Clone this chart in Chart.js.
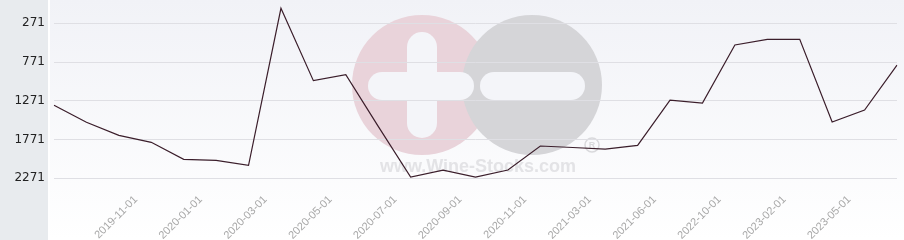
<!DOCTYPE html>
<html>
<head>
<meta charset="utf-8">
<script src="https://cdn.jsdelivr.net/npm/chart.js@4"></script>
<style>
  html, body { margin: 0; padding: 0; background: #fff; }
  #wrap { width: 904px; height: 240px; position: relative; }
</style>
</head>
<body>
<div id="wrap"><canvas id="lineChart" width="904" height="240"></canvas></div>
<script>
// fechas (solo se ven una de cada dos)
const fechas = ['', '', '2019-11-01', '', '2020-01-01', '', '2020-03-01', '', '2020-05-01', '',
    '2020-07-01', '', '2020-09-01', '', '2020-11-01', '', '2021-03-01', '', '2021-06-01', '',
    '2022-10-01', '', '2023-02-01', '', '2023-05-01', '', ''];
// posicion en el ranking (eje invertido)
const ranking = [1329, 1548, 1716, 1806, 2026, 2039, 2103, 77, 1011, 934,
    1600, 2254, 2164, 2254, 2164, 1854, 1873, 1893, 1845, 1261,
    1299, 551, 477, 477, 1545, 1390, 809];
const ticksY = [271, 771, 1271, 1771, 2271];

// fondo + marca de agua
const fondo = {
    id: 'fondo',
    beforeDraw(chart) {
        const c = chart.ctx;
        c.save();
        c.fillStyle = '#e8ebee';
        c.fillRect(0, 0, 48, chart.height);
        const g = c.createLinearGradient(0, 0, 0, chart.height);
        g.addColorStop(0, '#f1f2f7');
        g.addColorStop(1, '#ffffff');
        c.fillStyle = g;
        c.fillRect(50, 0, chart.width - 50, chart.height);

        // logo
        c.fillStyle = '#e9d3da';
        c.beginPath(); c.arc(422, 85, 70, 0, Math.PI * 2); c.fill();
        c.fillStyle = '#d5d5d8';
        c.beginPath(); c.arc(532, 85, 70, 0, Math.PI * 2); c.fill();
        c.fillStyle = '#f4f5f9';
        const barra = (x, y, w, h) => {
            const r = Math.min(w, h) / 2;
            c.beginPath();
            c.roundRect(x, y, w, h, r);
            c.fill();
        };
        barra(407, 32, 30, 106);
        barra(368, 72, 106, 28);
        barra(480, 72, 105, 28);
        c.fillStyle = '#e3e3e6';
        c.font = 'bold 18px "Liberation Sans"';
        c.textAlign = 'center';
        c.textBaseline = 'middle';
        c.fillText('www.Wine-Stocks.com', 478, 167);
        c.strokeStyle = '#d9d9dc';
        c.lineWidth = 1.5;
        c.beginPath(); c.arc(592, 145, 7, 0, Math.PI * 2); c.stroke();
        c.font = 'bold 9px "Liberation Sans"';
        c.fillStyle = '#d9d9dc';
        c.fillText('R', 592, 145.5);
        c.restore();
    }
};

const ctx = document.getElementById('lineChart').getContext('2d');
const lineChart = new Chart(ctx, {
    type: 'line',
    data: {
        labels: fechas,
        datasets: [{
            data: ranking,
            borderColor: '#3b1e2b',
            borderWidth: 1.2,
            pointRadius: 0,
            tension: 0,
            fill: false
        }]
    },
    options: {
        responsive: false,
        animation: false,
        layout: { padding: { left: 0, right: 7, top: 0, bottom: 0 } },
        plugins: { legend: { display: false }, tooltip: { enabled: false } },
        scales: {
            x: {
                offset: false,
                grid: { display: false },
                border: { display: false },
                ticks: {
                    autoSkip: false,
                    maxRotation: 45,
                    minRotation: 45,
                    color: '#a8a8a8',
                    font: { family: 'Liberation Sans', size: 11 },
                    padding: 0,
                    labelOffset: 17
                },
                afterFit(scale) {
                    scale.height = 55;
                    scale.paddingLeft = 0;
                    scale.paddingRight = 0;
                }
            },
            y: {
                reverse: true,
                min: -30,
                max: 2357,
                afterBuildTicks(scale) {
                    scale.ticks = ticksY.map(v => ({ value: v }));
                },
                grid: { color: '#dfdfe4', lineWidth: 1, drawTicks: false },
                border: { display: false },
                ticks: {
                    color: '#222',
                    font: { family: 'DejaVu Sans', size: 12 },
                    padding: 9,
                    callback: v => v
                },
                afterFit(scale) {
                    scale.width = 54;
                    scale.paddingTop = 0;
                    scale.paddingBottom = 0;
                }
            }
        }
    },
    plugins: [fondo]
});
</script>
</body>
</html>
